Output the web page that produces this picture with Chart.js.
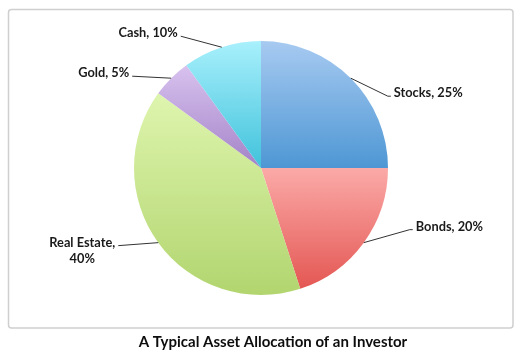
<!DOCTYPE html>
<html>
<head>
<meta charset="utf-8">
<script src="https://cdn.jsdelivr.net/npm/chart.js@4.4.0/dist/chart.umd.min.js"></script>
<style>
html,body{margin:0;padding:0;background:#fff;}
#wrap{width:522px;height:363px;position:relative;}
</style>
</head>
<body>
<div id="wrap"><canvas id="c" width="522" height="363"></canvas></div>
<script>
const categories = ["Stocks", "Bonds", "Real Estate", "Gold", "Cash"];
const allocation = [25, 20, 40, 5, 10];
const titleText = "A Typical Asset Allocation of an Investor";

// styling (not data)
const gradTop    = ["#a7caf1", "#fbaaa8", "#def5ae", "#d8c2ef", "#a8f0fc"];
const gradBottom = ["#4e97d4", "#e45753", "#b2d56f", "#a383c7", "#40c2db"];
// label layout: elbow offset from slice edge point, text side, label lines
const labelCfg = [
  {dx: 37, dy: 18, tick: 3, side: "right"},
  {dx: 46, dy: -13, tick: 3, side: "right"},
  {dx: -40, dy: 3, tick: 0, side: "left", split: true},
  {dx: -39, dy: -2, tick: 0, side: "left"},
  {dx: -41, dy: -11, tick: 0, side: "left"}
];
const FONT = "bold 12.8px Lato, 'Liberation Sans', sans-serif";
const TITLE_FONT = "bold 15px Lato, 'Liberation Sans', sans-serif";

function arcBBox(el) {
  const {x, y, startAngle, endAngle, outerRadius: r} = el.getProps(['x','y','startAngle','endAngle','outerRadius'], true);
  let ys = [y, y + r*Math.sin(startAngle), y + r*Math.sin(endAngle)];
  for (let k = -4; k <= 4; k++) {
    const a = k*Math.PI/2 + Math.PI/2;
    const b = k*Math.PI/2 - Math.PI/2;
    [a, b].forEach(t => { if (t > startAngle && t < endAngle) ys.push(y + r*Math.sin(t)); });
  }
  return {top: Math.min(...ys), bottom: Math.max(...ys)};
}

const gradientPlugin = {
  id: 'sliceGradient',
  beforeDatasetsDraw(chart) {
    const ctx = chart.ctx;
    const meta = chart.getDatasetMeta(0);
    meta.data.forEach((el, i) => {
      const bb = arcBBox(el);
      const g = ctx.createLinearGradient(0, bb.top, 0, bb.bottom);
      g.addColorStop(0, gradTop[i]);
      g.addColorStop(1, gradBottom[i]);
      el.options.backgroundColor = g;
    });
  }
};

const framePlugin = {
  id: 'frame',
  beforeDraw(chart) {
    const ctx = chart.ctx;
    ctx.save();
    ctx.fillStyle = '#fff';
    ctx.fillRect(0, 0, chart.width, chart.height);
    ctx.strokeStyle = '#cfcfcf';
    ctx.lineWidth = 1.5;
    ctx.beginPath();
    ctx.roundRect(8.5, 9.5, 504.5, 318.5, 3);
    ctx.stroke();
    ctx.restore();
  },
  afterDraw(chart) {
    // caption below the frame, slightly right of centre as in the original
    const ctx = chart.ctx;
    ctx.save();
    ctx.font = TITLE_FONT;
    ctx.fillStyle = '#0d0d0d';
    ctx.textAlign = 'center';
    ctx.textBaseline = 'middle';
    ctx.fillText(titleText, chart.width / 2 + 12, 342);
    ctx.restore();
  }
};

const labelPlugin = {
  id: 'leaderLabels',
  afterDatasetsDraw(chart) {
    const ctx = chart.ctx;
    const meta = chart.getDatasetMeta(0);
    const total = allocation.reduce((a, b) => a + b, 0);
    ctx.save();
    ctx.font = FONT;
    ctx.fillStyle = '#1a1a1a';
    ctx.strokeStyle = '#333';
    ctx.lineWidth = 1;
    meta.data.forEach((el, i) => {
      const {x, y, startAngle, endAngle, outerRadius: r} = el.getProps(['x','y','startAngle','endAngle','outerRadius'], true);
      const mid = (startAngle + endAngle) / 2;
      const px = x + r*Math.cos(mid), py = y + r*Math.sin(mid);
      const c = labelCfg[i];
      const ex = px + c.dx, ey = py + c.dy;
      const sgn = c.side === "right" ? 1 : -1;
      const tx = ex + sgn*c.tick;
      ctx.beginPath();
      ctx.moveTo(px, py);
      ctx.lineTo(ex, ey);
      if (c.tick) ctx.lineTo(tx, ey);
      ctx.stroke();
      const pct = Math.round(allocation[i] / total * 100) + "%";
      ctx.textBaseline = 'middle';
      if (c.split) {
        const l1 = categories[i] + ",";
        const w1 = ctx.measureText(l1).width;
        ctx.textAlign = 'right';
        ctx.fillText(l1, tx - 3, ey - 3);
        ctx.textAlign = 'center';
        ctx.fillText(pct, tx - 3 - w1/2, ey + 13);
      } else {
        const txt = categories[i] + ", " + pct;
        ctx.textAlign = c.side === "right" ? 'left' : 'right';
        ctx.fillText(txt, tx + sgn*3, ey - 3);
      }
    });
    ctx.restore();
  }
};

new Chart(document.getElementById('c'), {
  type: 'pie',
  data: {
    labels: categories,
    datasets: [{
      data: allocation,
      backgroundColor: gradTop,
      borderWidth: 0
    }]
  },
  options: {
    responsive: false,
    animation: false,
    layout: {padding: {top: 41, bottom: 68, left: 0, right: 0}},
    plugins: {
      legend: {display: false},
      tooltip: {enabled: false},
      title: {display: false}
    }
  },
  plugins: [framePlugin, gradientPlugin, labelPlugin]
});
</script>
</body>
</html>
